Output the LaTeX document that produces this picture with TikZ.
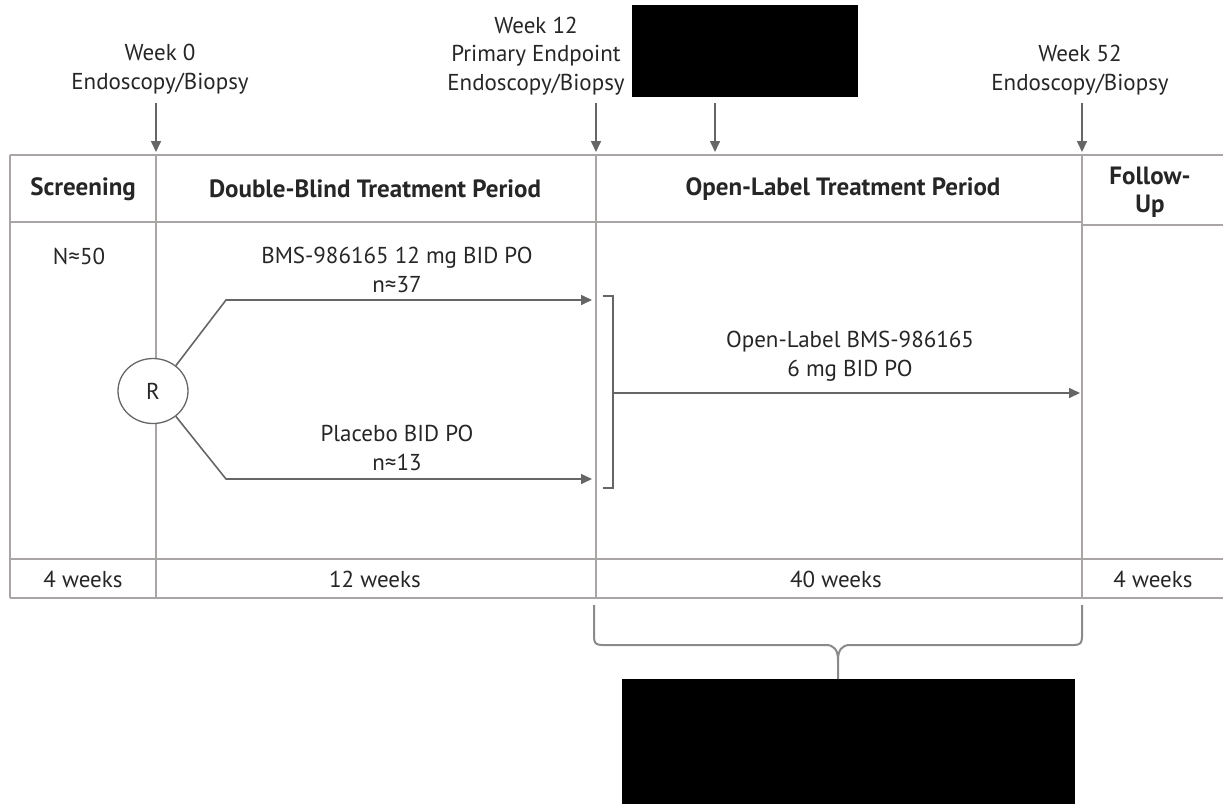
\documentclass[tikz,border=0pt]{standalone}
\usepackage{fontspec}
\setmainfont{PT Sans}
\usetikzlibrary{arrows.meta,shapes.geometric}
\definecolor{gridc}{HTML}{A9A5A5}
\definecolor{arrc}{HTML}{666666}
\definecolor{bracec}{HTML}{8A8A8A}
\definecolor{txtc}{HTML}{262626}
\begin{document}
\begin{tikzpicture}[x=1pt,y=-1pt,
  font=\fontsize{23}{28.5}\selectfont,
  tbl/.style={draw=gridc, line width=1.6},
  arw/.style={draw=arrc, line width=1.6, -{Triangle[length=11,width=10]}},
  ln/.style={draw=arrc, line width=1.6},
  lbl/.style={text=txtc, align=center, inner sep=0},
  hdr/.style={lbl, font=\fontsize{25}{28.5}\selectfont\bfseries},
  circ/.style={draw=arrc, line width=1.3, ellipse, fill=white, minimum width=70, minimum height=65, inner sep=0, text=txtc}]
\useasboundingbox (0,0) rectangle (1223,804);
% redactions
\fill[black] (632,5) rectangle (858,97);
\fill[black] (622,679) rectangle (1075,804);
% table
\draw[tbl] (10,155) -- (1223,155);
\draw[tbl] (10,222) -- (1082,222);
\draw[tbl] (1082,225) -- (1223,225);
\draw[tbl] (10,559) -- (1223,559);
\draw[tbl] (10,598) -- (1223,598);
\draw[tbl] (10,155) -- (10,598);
\draw[tbl] (156,155) -- (156,598);
\draw[tbl] (596,155) -- (596,598);
\draw[tbl] (1082,155) -- (1082,598);
% top labels
\node[lbl] (w0) at (160,69) {Week 0\\Endoscopy/Biopsy};
\node[lbl] (w12) at (536,56) {Week 12\\Primary Endpoint\\Endoscopy/Biopsy};
\node[lbl] (w52) at (1080,70) {Week 52\\Endoscopy/Biopsy};
\coordinate (a0s) at (156,103); \coordinate (a0e) at (156,152);
\coordinate (a1s) at (596,103); \coordinate (a1e) at (596,152);
\coordinate (a2s) at (715,103); \coordinate (a2e) at (715,152);
\coordinate (a3s) at (1082,103); \coordinate (a3e) at (1082,152);
\draw[arw] (a0s) -- (a0e);
\draw[arw] (a1s) -- (a1e);
\draw[arw] (a2s) -- (a2e);
\draw[arw] (a3s) -- (a3e);
% headers
\node[hdr] (h1) at (83,189) {Screening};
\node[hdr] (h2) at (375,189) {Double-Blind Treatment Period};
\node[hdr] (h3) at (843,189) {Open-Label Treatment Period};
\node[hdr] (h4) at (1150,192) {Follow-\\Up};
% body
\node[lbl] (n50) at (79,256) {N≈50};
\node[lbl] (bms) at (397,270) {BMS-986165 12 mg BID PO\\n≈37};
\node[lbl] (pla) at (397,448) {Placebo BID PO\\n≈13};
\node[lbl] (ol) at (850,356) {Open-Label BMS-986165\\6 mg BID PO};
\node[circ] (R) at (153,391) {R};
\coordinate (k1) at (226,300); \coordinate (e1) at (592,300);
\coordinate (k2) at (226,479); \coordinate (e2) at (592,479);
\draw[arw] (R.48) -- (k1) -- (e1);
\draw[arw] (R.-48) -- (k2) -- (e2);
% bracket
\coordinate (bt) at (603,296); \coordinate (bb) at (603,488);
\coordinate (bm) at (613,393); \coordinate (oe) at (1080,393);
\draw[ln, line width=1.3] (bt) -- (613,296) -- (613,488) -- (bb);
\draw[arw] (bm) -- (oe);
% footer
\node[lbl] (f1) at (83,579) {4 weeks};
\node[lbl] (f2) at (375,579) {12 weeks};
\node[lbl] (f3) at (836,579) {40 weeks};
\node[lbl] (f4) at (1153,579) {4 weeks};
% brace
\coordinate (bl) at (594,605); \coordinate (br) at (1082,605); \coordinate (bmid) at (838,679);
\draw[draw=bracec, line width=2] (bl) -- (594,637) .. controls (594,643) and (596,645) .. (602,645)
  -- (826,645) .. controls (834,645) and (838,650) .. (838,660) -- (bmid);
\draw[draw=bracec, line width=2] (br) -- (1082,637) .. controls (1082,643) and (1080,645) .. (1074,645)
  -- (850,645) .. controls (842,645) and (838,650) .. (838,660);
\end{tikzpicture}
\end{document}
